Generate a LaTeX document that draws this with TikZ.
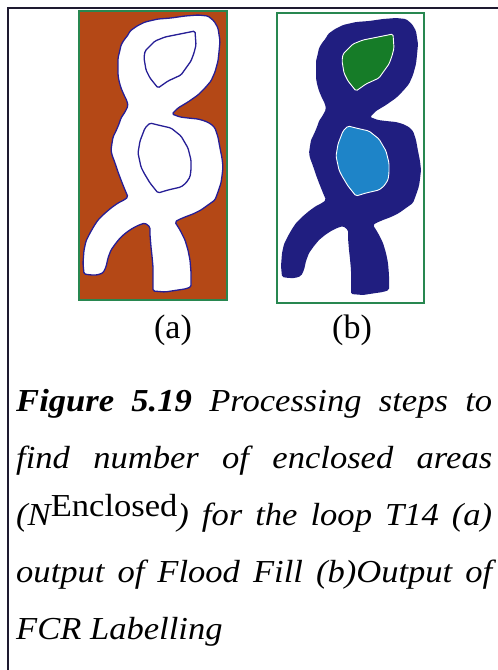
\documentclass[tikz,border=0pt]{standalone}
\usepackage{fontspec}
\setmainfont{Liberation Serif}
\newfontfamily\capfont[FakeStretch=1.08]{Liberation Serif}

\definecolor{rust}{RGB}{180,72,22}
\definecolor{edgeblue}{RGB}{38,30,150}
\definecolor{boxgreen}{RGB}{40,135,80}
\definecolor{navy}{RGB}{32,30,128}
\definecolor{holegreen}{RGB}{22,124,40}
\definecolor{holeblue}{RGB}{30,132,200}
\definecolor{framecol}{RGB}{30,26,48}

% outline of the loop T14 and its two holes, in pixel units
\newcommand\loopouter{(130,31) -- (137,26) -- (145,22) -- (158,19) -- (171,18) -- (185,16) -- (198,15) -- (208,16) -- (214,21) -- (218,28) -- (220,41) -- (219,52) -- (218,61) -- (215,72) -- (211,81) -- (205,88) -- (198,95) -- (188,102) -- (178,108) -- (172,114) -- (180,117) -- (188,118) -- (198,119) -- (205,121) -- (211,124) -- (215,128) -- (218,137) -- (220,148) -- (222,158) -- (223,167) -- (222,176) -- (221,183) -- (218,192) -- (215,200) -- (208,205) -- (201,210) -- (193,214) -- (185,217) -- (178,220) -- (175,222) -- (180,230) -- (185,240) -- (188,250) -- (190,260) -- (191,272) -- (191,287) -- (185,289) -- (178,290) -- (165,292) -- (153,291) -- (153,280) -- (153,267) -- (152,256) -- (151,247) -- (150,235) -- (150,227) -- (145,223) -- (139,225) -- (133,228) -- (127,232) -- (121,237) -- (116,243) -- (111,250) -- (108,258) -- (106,267) -- (103,273) -- (97,275) -- (91,275) -- (84,274) -- (83,263) -- (84,250) -- (86,241) -- (90,233) -- (94,226) -- (98,220) -- (104,214) -- (111,208) -- (118,203) -- (124,200) -- (128,197) -- (125,190) -- (121,180) -- (118,172) -- (115,163) -- (112,155) -- (111,150) -- (112,143) -- (113,137) -- (116,131) -- (119,124) -- (121,118) -- (125,112) -- (128,106) -- (127,101) -- (124,95) -- (121,88) -- (119,81) -- (118,75) -- (118,67) -- (118,58) -- (120,50) -- (121,45) -- (124,40) -- (128,35) -- cycle}
\newcommand\holeup{(145,51) -- (155,41) -- (165,37) -- (175,35) -- (185,33) -- (195,31) -- (196,45) -- (194,53) -- (191,61) -- (186,68) -- (181,75) -- (168,81) -- (158,88) -- (150,78) -- (146,70) -- (144,58) -- cycle}
\newcommand\holedown{(150,123) -- (158,125) -- (171,128) -- (181,136) -- (188,148) -- (191,160) -- (191,170) -- (190,177) -- (186,183) -- (181,187) -- (168,190) -- (158,193) -- (150,183) -- (144,173) -- (141,167) -- (138,153) -- (140,141) -- (145,128) -- cycle}

\tikzset{
  panelbox/.style={draw=boxgreen,line width=1.4pt},
  trace/.style={line width=1.3pt,line join=round,rounded corners=1.5pt},
  sublabel/.style={font=\fontsize{34}{38}\selectfont,inner sep=0pt,anchor=base},
  capline/.style={font=\capfont\itshape\fontsize{32}{36}\selectfont,inner sep=0pt,anchor=base west}
}

\begin{document}
\begin{tikzpicture}[x=1pt,y=-1pt]
\useasboundingbox (0,0) rectangle (498,670);

% frame lines
\draw[framecol,line width=2pt] (7,8) -- (498,8);
\draw[framecol,line width=2pt] (8,7) -- (8,670);

% (a) flood fill result
\fill[rust] (79,11) rectangle (227,300);
\filldraw[trace,fill=white,draw=edgeblue] \loopouter;
\filldraw[trace,fill=white,draw=edgeblue] \holeup;
\filldraw[trace,fill=white,draw=edgeblue] \holedown;
\draw[panelbox] (79,11) rectangle (227,300);

% (b) labelled regions
\fill[white] (277,13) rectangle (424,303);
\begin{scope}[shift={(198,3)}]
  \fill[trace,navy] \loopouter;
  \filldraw[trace,line width=0.9pt,fill=holegreen,draw=white] \holeup;
  \filldraw[trace,line width=0.9pt,fill=holeblue,draw=white] \holedown;
\end{scope}
\draw[panelbox] (277,13) rectangle (424,303);

\node[sublabel] (lbla) at (173,338) {(a)};
\node[sublabel] (lblb) at (352,338) {(b)};

% caption, one justified line per node
\node[capline] (cap1) at (16,411) {\makebox[476pt][s]{\textbf{Figure 5.19} Processing steps to}};
\node[capline] (cap2) at (16,468) {\makebox[476pt][s]{find number of enclosed areas}};
\node[capline] (cap3) at (16,525) {\makebox[476pt][s]{(\textit{N}\raisebox{9pt}{\upshape Enclosed}) for the loop T14 (a)}};
\node[capline] (cap4) at (16,582) {\makebox[476pt][s]{output of Flood Fill (b)Output of}};
\node[capline] (cap5) at (16,639) {FCR Labelling};
\end{tikzpicture}
\end{document}
